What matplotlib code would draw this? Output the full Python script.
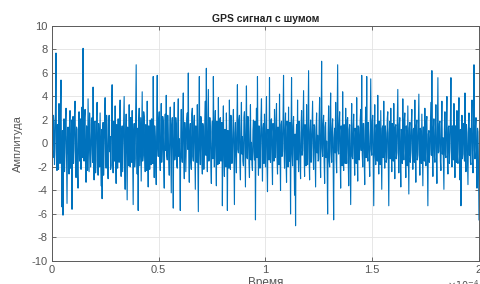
import matplotlib.pyplot as plt
import numpy as np
from matplotlib.ticker import FuncFormatter

plt.rcParams["font.family"] = ["Liberation Sans", "DejaVu Sans"]
plt.rcParams["axes.unicode_minus"] = False

# amplitude samples (about two per pixel column)
amp = [
    2.6, -0.5, -1.2, 2.4, 1.8, -1.8, -0.4, 3.1, 7.7, -1.0, -2.3, 1.6, 0.9, -2.2, 3.4, 0.3, -1.7, 2.7, 5.4, -2.0,
    -5.4, 1.1, -6.1, 0.5, 2.1, -2.4, -0.8, 1.9, 3.0, -1.3, -5.1, 0.6, 1.4, -0.9, -2.6, 1.7, 2.8, -2.1, -1.1, 2.0,
    -5.6, 1.3, 2.3, -1.7, -0.6, 2.5, 3.6, -0.8, -2.9, 1.4, 1.2, -2.6, -3.8, 1.0, 2.7, -1.5, 0.4, 2.1, -2.2, 0.9,
    3.1, -1.2, 8.1, -0.6, -1.5, 2.2, 2.9, -1.9, -3.3, 1.5, 0.7, -2.3, 3.8, 0.4, -2.4, 2.6, 1.6, -2.0, -0.9, 1.1,
    2.2, -1.6, 4.8, 0.2, -3.1, 1.8, 1.9, -2.5, -1.4, 2.3, 3.5, -0.9, -2.7, 1.7, 0.3, -2.0, 2.6, -0.4, -3.6, 1.2,
    -4.7, 0.8, 1.8, -2.7, -0.7, 2.0, 3.9, -1.1, -2.1, 2.4, 1.1, -1.8, -3.0, 1.3, 2.4, -0.7, 0.6, -2.2, -1.9, 2.9,
    5.0, -0.8, -2.5, 1.9, 1.3, -1.5, 3.2, -1.0, -3.4, 1.6, 0.8, -2.1, 2.1, -0.6, -1.6, 2.5, 3.7, -1.3, -2.8, 1.0,
    1.5, -2.4, -0.3, 2.1, 4.0, -1.7, -3.9, 0.7, 2.5, -1.1, -4.8, 1.4, 1.0, -1.9, 3.3, -0.5, -2.0, 2.2, 0.5, -1.6,
    2.8, -1.4, -5.2, 0.9, 1.7, -2.0, -1.3, 2.4, 6.7, -0.7, -2.6, 1.3, -5.7, 1.8, 3.0, -1.9, 0.2, 2.2, -3.2, 0.6,
    4.4, -1.5, -1.0, 2.7, 2.3, -0.9, -2.4, 1.6, 1.2, -2.3, 3.6, -1.2, -3.7, 1.5, 0.9, -2.2, 2.0, -0.4, -1.8, 2.1,
    1.4, -1.7, 5.7, 0.4, -2.9, 1.5, 0.6, -1.8, -3.5, 2.0, 5.8, -0.3, -1.1, 1.9, 2.7, -1.2, -2.3, 1.1, 3.4, -1.6,
    -0.5, 2.3, 1.9, -2.1, -3.8, 0.9, 2.5, -0.6, 4.1, -1.0, -1.4, 2.4, 0.8, -1.3, -2.7, 1.2, 3.1, -0.8, -4.2, 1.6,
    2.2, -0.6, -5.5, 1.2, 3.5, -1.4, -0.9, 2.2, 1.6, -1.9, -2.1, 1.7, 3.8, -1.1, 0.4, -2.0, -5.7, 0.8, 2.9, -1.0,
    -1.6, 2.0, 4.3, -1.3, -3.0, 1.8, 1.0, -2.4, -0.2, 2.1, 2.6, -0.5, 6.0, -1.2, -3.3, 0.9, 1.7, -1.6, -2.2, 2.5,
    3.0, -1.1, -1.5, 1.8, 2.4, -0.7, -3.9, 1.5, 0.7, -1.6, 3.3, -0.9, -5.8, 1.4, 5.7, -0.4, -1.8, 2.3, 2.0, -1.4,
    -2.6, 1.7, 1.2, -2.2, -0.6, 2.0, 3.6, -1.0, 6.4, -0.8, -2.4, 1.3, 4.6, -1.5, -1.2, 2.2, 0.9, -1.9, -3.4, 1.0,
    1.9, -1.3, 5.7, 0.6, -2.0, 1.6, 2.8, -1.2, -3.6, 1.9, 0.5, -1.8, 3.9, -0.7, -1.7, 2.1, 2.2, -1.5, -0.4, 1.8,
    -5.3, 1.0, 3.2, -1.4, -2.8, 1.2, 1.1, -2.0, 2.6, -0.6, -5.7, 1.1, 0.3, -2.1, 3.7, -0.8, -2.2, 2.4, 1.5, -1.7,
    -1.0, 1.4, 2.9, -1.6, -5.2, 0.9, 1.8, -1.1, -2.5, 1.8, 5.0, -0.5, -0.8, 2.0, 2.4, -1.9, -3.1, 1.3, 3.5, -0.9,
    0.6, -1.5, -1.9, 2.2, 2.7, -0.8, -3.7, 1.5, 4.9, -1.2, -1.3, 2.3, 1.6, -1.7, -2.9, 1.0, 3.3, -1.4, 0.1, -1.8,
    -2.3, 1.1, 2.0, -0.7, -1.4, 1.9, -6.5, 0.4, 3.0, -1.2, 5.7, -0.6, -2.7, 1.5, 1.3, -2.1, -0.5, 2.2, 3.8, -1.0,
    -3.2, 1.3, 1.7, -1.7, 2.5, -0.4, -2.0, 1.6, 4.0, -1.8, -4.1, 1.2, 0.8, -1.4, 5.6, -0.9, -1.6, 2.0, 2.1, -1.5,
    -3.5, 1.7, 1.0, -1.5, 2.9, -0.9, -1.2, 2.1, 3.4, -1.3, -2.6, 1.4, 0.4, -1.8, 4.2, -0.8, -4.0, 1.6, 1.9, -1.1,
    -0.7, 2.0, 5.8, -0.5, -2.1, 1.2, 2.6, -1.6, -3.3, 1.9, 1.4, -2.0, 3.1, -1.0, -1.5, 1.8, -6.0, 0.7, 5.6, -0.9,
    -1.9, 1.5, 2.3, -1.2, -4.4, 0.8, -7.0, 0.3, 1.6, -1.4, 3.7, -0.7, -2.4, 1.9, 0.9, -1.7, -3.0, 1.4, 2.8, -1.0,
    -0.6, 2.1, 4.5, -0.6, -2.8, 1.6, 1.2, -1.9, 3.3, -1.1, -1.8, 2.2, 6.2, -1.3, -3.1, 1.0, 2.0, -1.6, -0.3, 1.8,
    3.6, -1.0, -2.2, 1.6, 1.5, -1.3, -3.7, 1.2, 2.6, -0.8, 0.7, -1.5, -1.4, 2.0, 3.9, -0.9, -2.9, 1.1, 7.0, -0.4,
    -1.1, 1.7, 2.4, -1.6, -3.4, 1.4, 1.8, -1.2, 0.2, -1.8, -6.0, 0.9, 3.2, -1.5, -2.0, 1.9, 4.3, -0.7, -1.6, 1.3,
    2.1, -1.6, -6.5, 0.5, 1.3, -0.8, 3.5, -1.4, -2.5, 1.8, 6.7, -0.6, -0.9, 1.7, 2.7, -1.2, -3.8, 1.5, 1.0, -1.9,
    4.4, -0.9, -2.3, 1.6, 0.5, -1.7, 3.0, -0.5, -1.7, 2.0, 2.2, -1.3, -3.6, 1.2, 1.6, -1.8, -5.2, 0.8, 3.4, -1.1,
    -1.3, 1.4, 2.5, -1.1, -2.7, 1.3, 0.8, -1.7, 3.9, -0.8, -3.2, 1.5, 1.4, -1.4, -0.4, 2.0, 2.9, -0.6, 5.8, -0.9,
    -2.0, 1.7, 1.7, -1.5, -3.5, 1.1, 3.1, -1.2, 5.7, -0.7, -1.5, 1.8, 0.6, -1.6, -2.8, 1.0, 5.5, -0.5, -1.0, 1.9,
    2.4, -1.2, -5.3, 0.7, 3.3, -1.0, -1.8, 1.6, 1.1, -1.5, 4.1, -0.6, -2.6, 1.9, 0.3, -1.8, 2.8, -0.7, -3.9, 1.3,
    1.5, -1.2, 3.6, -0.9, -2.1, 1.5, 0.9, -1.6, -1.2, 2.1, 2.7, -1.1, -5.3, 0.9, 1.9, -1.3, 3.0, -0.6, -2.4, 1.7,
    0.7, -1.5, 3.4, -0.8, -3.0, 1.4, 1.6, -1.3, -0.8, 1.8, 4.6, -0.7, -2.5, 1.6, 2.2, -1.4, -3.7, 1.2, 1.0, -1.7,
    3.8, -0.6, -1.4, 2.0, 2.6, -1.1, -2.9, 1.5, 0.4, -1.9, 3.2, -1.0, -4.3, 1.3, 1.8, -1.6, -0.6, 1.7, 2.9, -0.8,
    -2.2, 1.2, 1.3, -1.6, 3.7, -0.9, -3.3, 1.5, 2.0, -1.4, -1.0, 1.8, 4.2, -0.8, -2.7, 1.3, 0.8, -1.7, 2.5, -0.6,
    -3.6, 1.4, 1.4, -1.5, 3.0, -0.9, -1.9, 1.9, 2.3, -1.2, -5.3, 0.8, 1.1, -1.6, -0.5, 1.5, 3.5, -1.0, 6.2, -0.7,
    -2.8, 1.3, 2.1, -1.1, -1.6, 1.6, 3.3, -1.2, -3.4, 1.0, 5.6, -0.8, -0.7, 1.7, 1.9, -1.5, -2.3, 1.4, 3.6, -0.9,
    0.5, -1.6, -3.9, 1.2, 2.7, -1.0, -1.2, 1.8, 4.0, -1.3, -2.6, 1.4, 1.5, -1.7, -0.3, 2.0, 5.6, -0.6, -2.0, 1.5,
    1.2, -1.4, 3.4, -0.7, -2.9, 1.5, 0.6, -1.6, 2.8, -1.1, -1.7, 1.9, 3.9, -0.8, -3.1, 1.2, -5.3, 0.6, 2.4, -1.3,
    -0.9, 1.7, 1.7, -1.5, 4.3, -0.8, -2.4, 1.6, 0.9, -1.4, -3.5, 1.1, 2.6, -1.0, 1.3, -1.6, -1.8, 1.8, 3.7, -0.9,
    -2.5, 1.4, 6.7, -0.6, -1.3, 1.5, 2.2, -1.2, -3.8, 1.3, 1.0, -1.8, -6.5,
]
t_end = 2e-4  # seconds
x_ticks = [0, 0.5e-4, 1e-4, 1.5e-4, 2e-4]
y_ticks = [-10, -8, -6, -4, -2, 0, 2, 4, 6, 8, 10]

t = np.linspace(0, t_end, len(amp))

fig = plt.figure(figsize=(4.8, 2.84), dpi=100)
ax = fig.add_axes([0.1083, 0.081, 0.8896, 0.8275])

ax.plot(t, amp, color="#0072BD", lw=0.8)

ax.set_xlim(0, t_end)
ax.set_ylim(-10, 10)
ax.set_xticks(x_ticks)
ax.set_yticks(y_ticks)
ax.xaxis.set_major_formatter(FuncFormatter(lambda v, p: f"{v * 1e4:g}"))
ax.grid(True, color="#e3e3e3", lw=0.6)
ax.set_axisbelow(True)

ax.tick_params(direction="in", length=3, width=0.6, labelsize=8,
               colors="#555555", top=True, right=True, pad=3)
for s in ax.spines.values():
    s.set_color("#5a5a5a")
    s.set_linewidth(0.7)

ax.set_title("GPS сигнал с шумом", fontsize=7.5, fontweight="bold", color="#222222", pad=3)
ax.set_xlabel("Время", fontsize=8.5, color="#555555", labelpad=1)
ax.set_ylabel("Амплитуда", fontsize=8, color="#555555", labelpad=6)
ax.text(1.0, -0.075, r"$\times10^{-4}$", transform=ax.transAxes, ha="right", va="top",
        fontsize=7, color="#555555")

fig.savefig("out.png", dpi=100)
